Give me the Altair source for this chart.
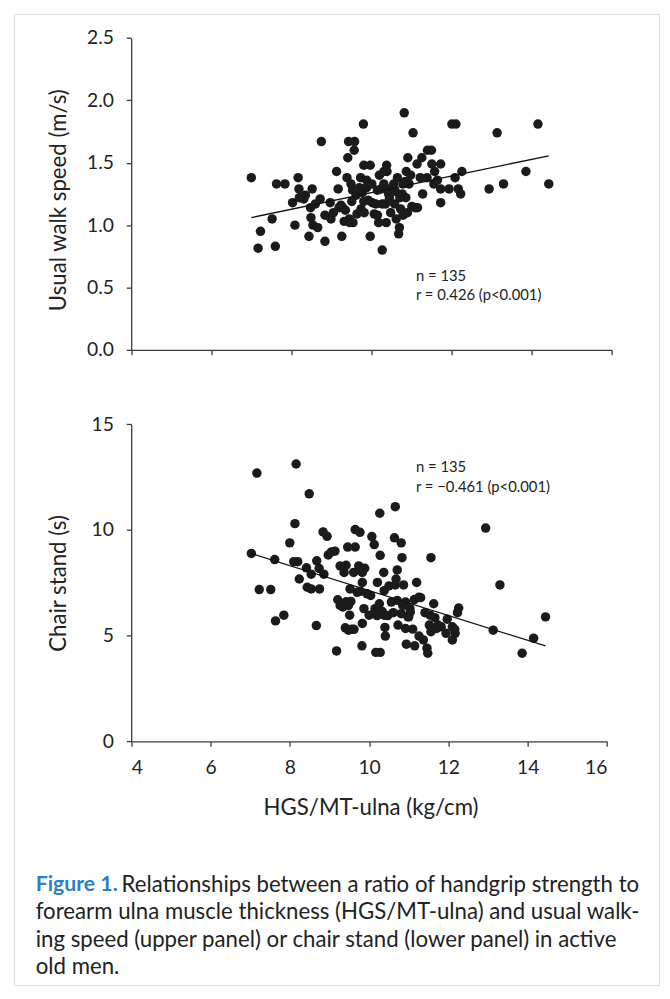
import altair as alt
import pandas as pd

# ---------------- data ----------------
top_x = [7.00, 7.17, 7.23, 7.52, 7.60, 7.63, 7.84, 8.03, 8.09, 8.17, 8.19, 8.20, 8.31, 8.52, 8.44,
         8.48, 8.49, 8.54, 8.66, 8.72, 8.75, 8.84, 8.84, 8.99, 8.97, 9.13, 9.17, 9.19, 9.26, 9.28,
         9.39, 9.41, 9.43, 9.58, 9.57, 9.49, 9.32, 9.46, 9.54, 9.51, 9.64, 9.73, 9.80, 9.77, 9.81,
         9.97, 9.81, 9.88, 9.82, 9.97, 10.01, 10.07, 10.11, 10.18, 10.24, 10.27, 10.31, 10.31, 10.38,
         10.39, 10.37, 10.35, 10.43, 10.56, 10.58, 10.62, 10.65, 10.68, 10.70, 10.71, 10.73, 10.79,
         10.79, 10.82, 10.87, 10.86, 10.94, 10.91, 11.04, 11.09, 11.15, 11.14, 11.22, 11.28, 11.26,
         11.39, 11.40, 11.50, 11.51, 11.56, 11.58, 11.73, 11.73, 11.73, 11.94, 12.01, 12.11, 12.09,
         12.17, 12.23, 12.26, 12.94, 13.14, 13.30, 13.86, 14.16, 14.43,
         9.53, 10.15, 10.35, 10.52, 10.77, 9.24, 9.74, 10.02, 10.27, 11.01, 9.45, 10.15, 9.62, 9.70,
         9.92, 10.45, 10.60, 10.85, 10.98, 9.35, 9.88, 10.20, 10.48, 10.90, 8.35, 8.60, 9.05, 11.65]
top_y = [1.38, 0.815, 0.95, 1.05, 0.83, 1.33, 1.33, 1.18, 1.00, 1.38, 1.29, 1.22, 1.21, 1.29, 0.91,
         1.14, 1.06, 1.00, 0.98, 1.21, 1.67, 0.87, 1.08, 1.05, 1.18, 1.43, 1.29, 1.14, 0.91, 1.14,
         1.38, 1.54, 1.67, 1.67, 1.60, 1.33, 1.03, 1.02, 1.02, 1.19, 1.09, 1.38, 1.81, 1.26, 1.48,
         1.48, 1.19, 1.30, 1.10, 0.91, 1.33, 1.09, 1.17, 1.02, 1.29, 0.80, 1.43, 1.33, 1.48,
         1.43, 1.02, 1.17, 1.25, 1.33, 1.17, 1.05, 1.38, 0.93, 0.98, 1.22, 1.13, 1.08,
         1.33, 1.90, 1.43, 1.22, 1.33, 1.54, 1.74, 1.14, 1.14, 1.49, 1.38, 1.25, 1.54,
         1.38, 1.60, 1.60, 1.49, 1.33, 1.43, 1.49, 1.29, 1.18, 1.29, 1.81, 1.81, 1.38,
         1.29, 1.25, 1.43, 1.29, 1.74, 1.33, 1.43, 1.81, 1.33,
         1.28, 1.28, 1.29, 1.30, 1.25, 1.16, 1.13, 1.18, 1.17, 1.15, 1.05, 1.08, 1.24, 1.30,
         1.20, 1.22, 1.27, 1.35, 1.40, 1.12, 1.36, 1.40, 1.10, 1.10, 1.24, 1.17, 1.10, 1.36]

bot_x = [7.03, 7.17, 7.23, 7.52, 7.62, 7.64, 7.85, 8.00, 8.13, 8.16, 8.10, 8.20, 8.24, 8.42, 8.44,
         8.49, 8.54, 8.54, 8.67, 8.68, 8.75, 8.74, 8.84, 8.94, 8.86, 8.97, 9.05, 9.14, 9.18, 9.21,
         9.27, 9.27, 9.37, 9.42, 9.40, 9.46, 9.65, 9.48, 9.51, 9.54, 9.52, 9.48, 9.56, 9.65, 9.77,
         9.61, 9.74, 9.83, 9.89, 9.83, 9.70, 9.82, 9.83, 9.87, 9.95, 10.04, 10.00, 10.07, 10.13,
         10.15, 10.17, 10.28, 10.27, 10.28, 10.21, 10.26, 10.37, 10.38, 10.38, 10.40, 10.41, 10.56,
         10.64, 10.66, 10.71, 10.68, 10.66, 10.71, 10.73, 10.61, 10.81, 10.83, 10.87, 10.85, 10.81,
         10.92, 10.94, 10.98, 11.03, 11.14, 11.15, 11.20, 11.26, 11.26, 11.37, 11.41, 11.46, 11.48,
         11.54, 11.52, 11.56, 11.56, 11.63, 11.70, 11.74, 11.97, 11.94, 12.10, 12.10, 12.17, 12.23,
         12.26, 12.94, 13.13, 13.30, 13.86, 14.15, 14.45,
         9.34, 9.42, 9.62, 9.78, 10.12, 10.20, 10.33, 10.47, 10.92, 11.04, 11.10, 11.00, 11.30,
         11.66, 12.16, 11.82, 10.50]
bot_y = [8.89, 12.69, 7.18, 7.18, 8.60, 5.70, 5.97, 9.39, 10.30, 13.12, 8.50, 8.50, 7.68, 8.21, 7.29,
         11.71, 7.91, 7.21, 5.48, 8.54, 7.21, 8.18, 9.91, 9.70, 7.91, 8.82, 8.96, 9.00, 4.28, 6.70,
         6.43, 8.30, 7.99, 8.33, 5.37, 9.19, 9.19, 6.43, 5.97, 6.62, 7.21, 5.26, 5.30, 10.02, 9.89,
         7.99, 8.30, 7.99, 8.19, 7.52, 7.05, 4.52, 5.58, 6.28, 6.98, 6.90, 5.97, 9.69, 9.31,
         6.28, 4.21, 4.21, 10.79, 8.80, 7.52, 6.51, 7.99, 7.13, 5.97, 5.39, 4.98, 6.59,
         9.63, 11.10, 8.11, 7.68, 7.40, 6.67, 5.50, 6.09, 9.39, 8.69, 7.40, 6.43, 6.04,
         5.34, 4.60, 5.89, 6.28, 6.71, 4.52, 7.52, 6.82, 4.98, 4.80, 6.09, 4.41, 4.17,
         5.97, 5.50, 8.69, 5.19, 6.51, 5.34, 5.50, 5.78, 5.11, 5.42, 4.80, 5.11, 6.09,
         6.31, 10.09, 5.26, 7.40, 4.17, 4.88, 5.89,
         6.36, 6.60, 5.30, 7.10, 6.05, 5.95, 6.15, 5.95, 6.59, 6.12, 5.31, 5.89, 6.80,
         5.85, 5.30, 5.42, 7.35]

x_ticks = [4, 6, 8, 10, 12, 14, 16]
top_y_ticks = [0, 0.5, 1.0, 1.5, 2.0, 2.5]
bot_y_ticks = [0, 5, 10, 15]

x_title = "HGS/MT-ulna (kg/cm)"
top_y_title = "Usual walk speed (m/s)"
bot_y_title = "Chair stand (s)"
top_annot = ["n = 135", "r = 0.426 (p<0.001)"]
bot_annot = ["n = 135", "r = \u22120.461 (p<0.001)"]
cap_head = "Figure 1."
cap_line1 = "Relationships between a ratio of handgrip strength to"
cap_lines = ["forearm ulna muscle thickness (HGS/MT-ulna) and usual walk-",
             "ing speed (upper panel) or chair stand (lower panel) in active",
             "old men."]

# ---------------- style ----------------
FONT = "Lato"
AX = "#3a3a3a"
TXT = "#222222"
W, H = 653, 983

top_df = pd.DataFrame({"hgs": top_x, "speed": top_y})
bot_df = pd.DataFrame({"hgs": bot_x, "stand": bot_y})


def axis(**kw):
    return alt.Axis(grid=False, domainColor=AX, tickColor=AX, domainWidth=1.3, tickWidth=1.3,
                    tickSize=5, labelFont=FONT, labelFontSize=19.5, labelColor=TXT,
                    titleFont=FONT, titleFontSize=22.5, titleColor=TXT, titleFontWeight="normal",
                    **kw)


# top panel encodings
tx = alt.X("hgs:Q", scale=alt.Scale(domain=[4, 16], range=[118.7, 605], nice=False, zero=False),
           axis=axis(orient="bottom", offset=340 - H, values=x_ticks, labels=False, title=""))
ty = alt.Y("speed:Q", scale=alt.Scale(domain=[0, 2.5], range=[340, 24.3], nice=False, zero=False),
           axis=axis(orient="left", offset=-118.7, values=top_y_ticks, format=".1f", labelPadding=13,
                     title=top_y_title, titleX=-73, titleY=188, titleAngle=270,
                     titleBaseline="middle", titleAlign="center"))

top_pts = alt.Chart(top_df).mark_circle(size=92, color="#1b1b1b", opacity=1).encode(x=tx, y=ty)
top_line = alt.Chart(top_df).transform_regression("hgs", "speed").mark_line(
    color="#111111", strokeWidth=1.3).encode(x=tx, y=ty)
top_txt = alt.Chart(pd.DataFrame({"t": ["\n".join(top_annot)]})).mark_text(
    font=FONT, fontSize=15, color=TXT, align="left", baseline="middle", lineBreak="\n",
    lineHeight=20).encode(text="t:N", x=alt.value(407), y=alt.value(265))
top_panel = alt.layer(top_pts, top_line, top_txt)

# bottom panel encodings
bx = alt.X("hgs:Q", scale=alt.Scale(domain=[4, 16], range=[118.7, 600.3], nice=False, zero=False),
           axis=axis(orient="bottom", offset=736.3 - H, values=x_ticks, labelPadding=13,
                     title=x_title, titleX=361, titleY=67, titleBaseline="middle",
                     titleAlign="center"))
by = alt.Y("stand:Q", scale=alt.Scale(domain=[0, 15], range=[736.3, 415.3], nice=False, zero=False),
           axis=axis(orient="left", offset=-118.7, values=bot_y_ticks, labelPadding=13,
                     title=bot_y_title, titleX=-73, titleY=576, titleAngle=270,
                     titleBaseline="middle", titleAlign="center"))

bot_pts = alt.Chart(bot_df).mark_circle(size=92, color="#1b1b1b", opacity=1).encode(x=bx, y=by)
bot_line = alt.Chart(bot_df).transform_regression("hgs", "stand").mark_line(
    color="#111111", strokeWidth=1.3).encode(x=bx, y=by)
bot_txt = alt.Chart(pd.DataFrame({"t": ["\n".join(bot_annot)]})).mark_text(
    font=FONT, fontSize=15, color=TXT, align="left", baseline="middle", lineBreak="\n",
    lineHeight=20).encode(text="t:N", x=alt.value(407), y=alt.value(459))
bot_panel = alt.layer(bot_pts, bot_line, bot_txt)

# caption
CAP = 22.5
cap_a = alt.Chart(pd.DataFrame({"t": [cap_head]})).mark_text(
    font=FONT, fontSize=21.5, fontWeight="bold", color="#2b7fc3", align="left",
    baseline="middle").encode(text="t:N", x=alt.value(22), y=alt.value(882))
cap_b = alt.Chart(pd.DataFrame({"t": [cap_line1]})).mark_text(
    font=FONT, fontSize=CAP, color=TXT, align="left",
    baseline="middle").encode(text="t:N", x=alt.value(109), y=alt.value(882))
cap_c = alt.Chart(pd.DataFrame({"t": ["\n".join(cap_lines)]})).mark_text(
    font=FONT, fontSize=CAP, color=TXT, align="left", baseline="middle", lineBreak="\n",
    lineHeight=27.5).encode(text="t:N", x=alt.value(22), y=alt.value(909.5))

chart = alt.layer(top_panel, bot_panel, cap_a, cap_b, cap_c).resolve_scale(
    x="independent", y="independent"
).properties(
    width=W, height=H, autosize=alt.AutoSizeParams(type="none"),
    padding={"left": 6, "top": 0, "right": 3, "bottom": 8},
).configure_view(
    stroke="#3d88cc", strokeWidth=1.6, cornerRadius=15, fill="white"
).configure(background="white")

chart.save("out.html", embed_options={"renderer": "svg", "actions": False})
